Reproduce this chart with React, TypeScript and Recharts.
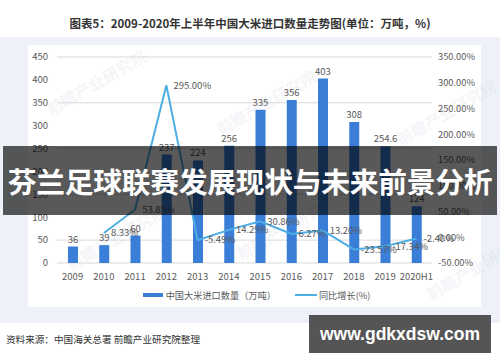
import React from 'react';
import {
  ComposedChart,
  Bar,
  Line,
  XAxis,
  YAxis,
  CartesianGrid,
  Legend,
  LabelList,
} from 'recharts';

const years = ['2009', '2010', '2011', '2012', '2013', '2014', '2015', '2016', '2017', '2018', '2019', '2020H1'];
const importVolume = [36, 39, 60, 237, 224, 256, 335, 356, 403, 308, 254.6, 124];
const yoyGrowth = [null, 8.33, 53.85, 295.0, -5.49, 14.29, 30.86, 6.27, 13.2, -23.57, -17.34, -2.4];
const leftTicks = [0, 50, 100, 150, 200, 250, 300, 350, 400, 450];
const rightTicks = [-50, 0, 50, 100, 150, 200, 250, 300, 350];

const barName = '中国大米进口数量（万吨）';
const lineName = '同比增长(%)';

const data = years.map((year, i) => ({
  year,
  volume: importVolume[i],
  growth: yoyGrowth[i],
}));

const FONT = '"Noto Sans CJK SC", "Noto Sans", sans-serif';
const BAR_COLOR = '#3a7ed8';
const LINE_COLOR = '#4caee2';
const TEXT_GRAY = '#595959';

const GrowthLabel = (props: any) => {
  const { x, y, value } = props;
  if (value === null || value === undefined) return null;
  return (
    <text x={x + 7} y={y} dy="0.35em" fontSize={9.5} fill={TEXT_GRAY} fontFamily={FONT}>
      {Number(value).toFixed(2)}%
    </text>
  );
};

const ChartLegend = () => (
  <div
    style={{
      display: 'flex',
      justifyContent: 'center',
      alignItems: 'center',
      fontFamily: FONT,
      fontSize: 9.2,
      color: TEXT_GRAY,
      height: 12,
      paddingLeft: 4,
    }}
  >
    <span style={{ display: 'inline-block', width: 20, height: 4, background: BAR_COLOR, marginRight: 3 }} />
    <span>{barName}</span>
    <span style={{ display: 'inline-block', width: 22, height: 2, background: LINE_COLOR, marginLeft: 19, marginRight: 2 }} />
    <span>{lineName}</span>
  </div>
);

// faint publisher watermarks behind the plot
const watermarks = [
  { left: 40, top: 70 },
  { left: 210, top: 90 },
  { left: 390, top: 100 },
  { left: 60, top: 225 },
  { left: 230, top: 215 },
  { left: 420, top: 255 },
];

export default function App() {
  return (
    <div
      style={{
        position: 'fixed',
        left: 0,
        top: 0,
        width: 500,
        height: 362,
        background: '#ffffff',
        overflow: 'hidden',
        fontFamily: FONT,
      }}
    >
      <div
        style={{
          position: 'absolute',
          left: 0,
          top: 14,
          width: 500,
          textAlign: 'center',
          fontSize: 11.5,
          fontWeight: 'bold',
          color: '#333333',
          lineHeight: '18px',
        }}
      >
        图表5：2009-2020年上半年中国大米进口数量走势图(单位：万吨，%)
      </div>

      <div style={{ position: 'absolute', left: 0, top: 37, width: 500, height: 286, background: '#eef2f8' }} />
      <div style={{ position: 'absolute', left: 28, top: 45, width: 453, height: 262, background: '#ffffff' }} />

      {watermarks.map((w, i) => (
        <div
          key={i}
          style={{
            position: 'absolute',
            left: w.left,
            top: w.top,
            fontSize: 16,
            fontWeight: 'bold',
            color: 'rgba(170,180,200,0.14)',
            transform: 'rotate(-30deg)',
            whiteSpace: 'nowrap',
          }}
        >
          前瞻产业研究院
        </div>
      ))}

      <div style={{ position: 'absolute', left: 28, top: 45 }}>
        <ComposedChart
          width={453}
          height={262}
          data={data}
          margin={{ top: 12, right: 0, bottom: 24, left: 0 }}
          style={{ overflow: 'visible' }}
        >
          <CartesianGrid yAxisId="left" vertical={false} stroke="#d9d9d9" />
          <XAxis
            dataKey="year"
            height={20}
            axisLine={false}
            tickLine={false}
            tickMargin={4}
            interval={0}
            tick={{ fontSize: 9.5, fill: TEXT_GRAY, fontFamily: FONT }}
          />
          <YAxis
            yAxisId="left"
            width={29}
            domain={[0, 450]}
            ticks={leftTicks}
            axisLine={false}
            tickLine={false}
            tickMargin={3}
            tick={{ fontSize: 9.5, fill: TEXT_GRAY, fontFamily: FONT }}
          />
          <YAxis
            yAxisId="right"
            orientation="right"
            width={49}
            domain={[-50, 350]}
            ticks={rightTicks}
            axisLine={false}
            tickLine={false}
            tickSize={4}
            tickMargin={2}
            tickFormatter={(v: number) => `${v.toFixed(2)}%`}
            tick={{ fontSize: 9.3, fill: TEXT_GRAY, fontFamily: FONT }}
          />
          <Legend
            layout="horizontal"
            verticalAlign="middle"
            align="center"
            wrapperStyle={{ top: 244, left: 0, width: 453 }}
            content={() => <ChartLegend />}
          />
          <Bar yAxisId="left" dataKey="volume" name={barName} fill={BAR_COLOR} barSize={10} isAnimationActive={false}>
            <LabelList dataKey="volume" position="top" offset={4} fontSize={9.5} fill={TEXT_GRAY} fontFamily={FONT} />
          </Bar>
          <Line
            yAxisId="right"
            dataKey="growth"
            name={lineName}
            stroke={LINE_COLOR}
            strokeWidth={2}
            dot={false}
            activeDot={false}
            isAnimationActive={false}
          >
            <LabelList dataKey="growth" content={GrowthLabel} />
          </Line>
        </ComposedChart>
      </div>

      <div
        style={{
          position: 'absolute',
          left: 3,
          top: 146,
          width: 494,
          height: 69,
          background: 'rgba(0,0,0,0.65)',
          color: '#ffffff',
          fontSize: 28.8,
          fontWeight: 'bold',
          lineHeight: '69px',
          textAlign: 'center',
          whiteSpace: 'nowrap',
          letterSpacing: -0.3,
        }}
      >
        芬兰足球联赛发展现状与未来前景分析
      </div>

      <div
        style={{
          position: 'absolute',
          left: 6,
          top: 331,
          fontSize: 9.6,
          color: '#333333',
          lineHeight: '16px',
          whiteSpace: 'nowrap',
        }}
      >
        资料来源：中国海关总署 前瞻产业研究院整理
      </div>
      <div
        style={{
          position: 'absolute',
          left: 309,
          top: 315,
          width: 182,
          height: 38,
          background: 'rgba(70,70,72,0.92)',
          color: '#ffffff',
          fontFamily: '"Liberation Sans", Arial, sans-serif',
          fontSize: 17.5,
          fontWeight: 'bold',
          lineHeight: '38px',
          textAlign: 'center',
        }}
      >
        www.gdkxdsw.com
      </div>
    </div>
  );
}
